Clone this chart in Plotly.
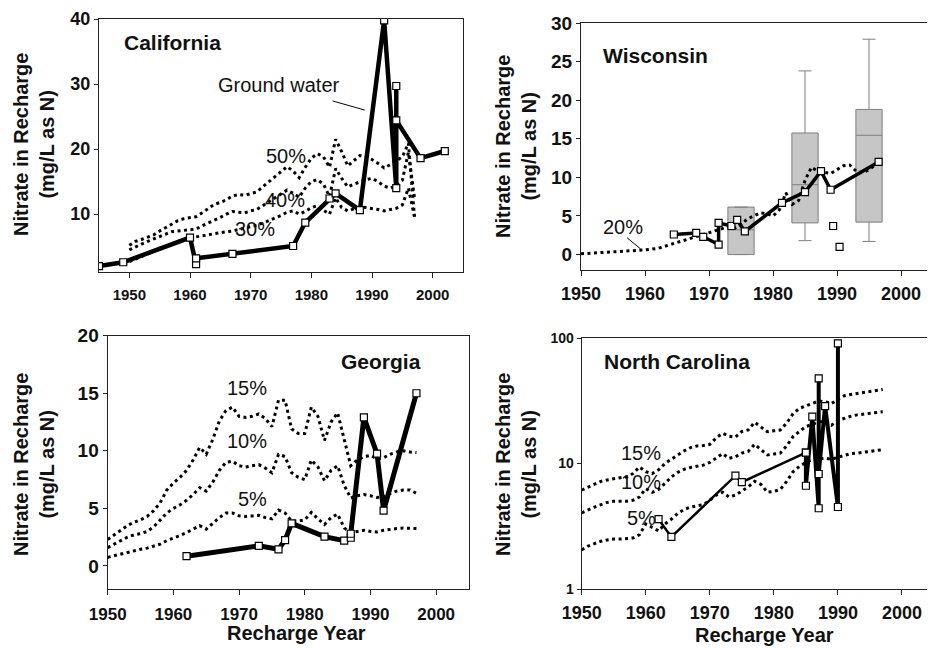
import plotly.graph_objects as go

# ---------------- DATA ----------------
pct_years = list(range(1950, 1998))

# California
ca_gw_year = [1945, 1949, 1960, 1961, 1961, 1967, 1977, 1979, 1983, 1984, 1988, 1992, 1994, 1994, 1994, 1998, 2002]
ca_gw_val = [2.0, 2.6, 6.4, 2.3, 3.2, 3.9, 5.1, 8.7, 12.4, 13.2, 10.6, 39.8, 14.0, 29.7, 24.4, 18.6, 19.7]
ca_50 = [5.2, 5.8, 6.1, 6.4, 6.8, 7.4, 7.9, 8.5, 9.0, 9.3, 9.4, 9.6, 10.2, 10.8, 11.5, 11.8, 12.2, 12.8, 13.0, 12.9,
         13.1, 13.4, 14.2, 15.0, 15.8, 16.6, 17.3, 16.6, 15.6, 17.2, 18.6, 19.3, 18.8, 17.2, 21.5, 19.6, 17.4, 18.2,
         19.0, 18.8, 18.4, 17.8, 17.1, 17.6, 18.2, 18.8, 20.9, 9.6]
ca_40 = [4.5, 5.0, 5.4, 5.8, 6.2, 6.6, 7.0, 7.3, 7.4, 7.5, 7.6, 7.7, 8.2, 8.6, 9.0, 9.5, 10.0, 10.4, 10.3, 10.2,
         10.5, 10.7, 11.3, 11.9, 12.5, 13.2, 13.7, 13.2, 12.6, 14.0, 15.0, 15.3, 14.6, 12.7, 17.0, 15.5, 14.2, 14.6,
         15.0, 15.3, 15.5, 15.0, 14.3, 14.0, 14.4, 15.2, 19.5, 12.5]
ca_30 = [2.7, 3.1, 3.5, 3.9, 4.2, 4.6, 5.0, 5.4, 5.8, 6.1, 6.4, 6.5, 6.6, 6.8, 7.0, 7.2, 7.3, 7.4, 7.6, 7.8,
         8.0, 8.3, 8.6, 9.0, 9.3, 9.8, 10.3, 10.5, 10.0, 10.4, 11.0, 11.3, 10.6, 10.0, 12.5, 11.0, 10.5, 10.8,
         11.1, 11.0, 10.9, 10.7, 10.5, 10.7, 10.9, 11.4, 14.0, 9.6]

# Wisconsin
wi_gw_year = [1964.5, 1968.0, 1969.1, 1971.5, 1971.5, 1973.5, 1974.4, 1975.6, 1981.4, 1985.0, 1987.5, 1989.0, 1996.5]
wi_gw_val = [2.6, 2.8, 2.3, 1.3, 4.1, 3.7, 4.5, 3.0, 6.7, 8.1, 10.8, 8.4, 12.0]
wi_out_year = [1989.4, 1990.4]
wi_out_val = [3.7, 1.0]
wi_20_year = [1950, 1952, 1954, 1956, 1958, 1960, 1962, 1964, 1966, 1968, 1970, 1971, 1972, 1973, 1974, 1975,
              1976, 1977, 1978, 1979, 1980, 1981, 1982, 1983, 1984, 1985, 1986, 1987, 1988, 1989, 1990, 1991,
              1992, 1993, 1994, 1995, 1996]
wi_20_val = [0.1, 0.2, 0.3, 0.4, 0.5, 0.6, 0.8, 1.3, 1.8, 2.4, 2.9, 3.1, 3.3, 3.6, 3.4, 3.9,
             4.6, 5.0, 5.4, 5.3, 5.0, 5.8, 8.0, 6.5, 7.0, 9.6, 11.3, 10.8, 10.6, 10.5, 11.0, 11.5,
             11.6, 10.8, 10.6, 11.0, 11.6]
wi_box_x = [1975, 1985, 1995]
wi_box_q1 = [0.0, 4.1, 4.2]
wi_box_med = [3.2, 9.05, 15.45]
wi_box_q3 = [6.15, 15.75, 18.8]
wi_box_lo = [0.0, 1.8, 1.7]
wi_box_hi = [6.15, 23.8, 27.9]

# Georgia
ga_gw_year = [1962, 1973, 1976, 1977, 1978, 1983, 1986, 1987, 1987, 1989, 1991, 1992, 1997]
ga_gw_val = [0.85, 1.75, 1.45, 2.25, 3.7, 2.55, 2.2, 2.45, 2.8, 12.9, 9.75, 4.8, 15.0]
ga_15 = [2.3, 2.7, 3.1, 3.5, 3.8, 4.0, 4.3, 4.8, 5.5, 6.6, 7.2, 7.7, 8.3, 9.2, 10.3, 9.7, 11.0, 12.6, 13.5, 13.8,
         13.0, 12.9, 13.0, 13.2, 12.8, 12.1, 14.4, 14.4, 11.9, 11.5, 11.5, 13.8, 13.0, 10.9, 12.5, 13.3, 11.0, 8.7,
         9.2, 9.5, 9.6, 9.3, 9.4, 9.7, 9.9, 10.0, 9.9, 9.85]
ga_10 = [1.6, 1.9, 2.2, 2.5, 2.7, 2.8, 3.0, 3.4, 4.0, 4.6, 5.0, 5.3, 5.7, 6.2, 6.8, 6.5, 7.3, 8.3, 9.0, 9.1,
         8.7, 8.6, 8.7, 8.8, 8.5, 8.1, 9.7, 9.5, 8.1, 7.7, 7.5, 9.2, 8.6, 7.4, 8.3, 8.7, 7.0, 5.9,
         6.1, 6.2, 6.1, 5.95, 6.0, 6.3, 6.5, 6.6, 6.6, 6.3]
ga_5 = [0.75, 0.9, 1.05, 1.2, 1.35, 1.45, 1.55, 1.7, 1.9, 2.2, 2.4, 2.65, 2.9, 3.2, 3.5, 3.2, 3.7, 4.2, 4.6, 4.6,
        4.35, 4.3, 4.35, 4.4, 4.2, 4.1, 4.85, 4.6, 3.9, 3.9, 4.0, 4.65, 4.1, 3.6, 4.2, 4.5, 3.3, 2.9,
        3.0, 3.1, 3.0, 2.95, 3.1, 3.2, 3.25, 3.3, 3.3, 3.25]

# North Carolina
nc_gw_year = [1962, 1964, 1974, 1975, 1985, 1985, 1986, 1987, 1987, 1987, 1988, 1990, 1990]
nc_gw_val = [3.6, 2.6, 8.0, 7.1, 12.2, 6.65, 23.6, 4.4, 47.7, 8.25, 28.7, 4.5, 90.7]
nc_15 = [6.15, 6.5, 6.9, 7.2, 7.4, 7.6, 7.7, 7.8, 8.3, 9.4, 8.6, 8.3, 8.9, 10.0, 10.9, 11.7, 12.6, 13.4, 13.8, 13.9,
         14.2, 16.0, 17.4, 16.5, 16.2, 18.0, 18.5, 21.3, 19.5, 17.9, 18.2, 18.5, 21.0, 25.0, 27.5, 28.9, 30.0, 31.5,
         31.0, 30.0, 32.5, 34.7, 35.5, 36.2, 36.8, 37.5, 38.2, 38.8]
nc_10 = [4.05, 4.3, 4.5, 4.7, 4.9, 5.0, 5.0, 5.0, 5.1, 5.4, 6.3, 5.9, 6.2, 7.0, 7.8, 8.5, 9.0, 9.3, 9.5, 9.7,
         10.2, 11.0, 12.0, 11.0, 11.3, 12.1, 12.5, 14.2, 13.0, 11.7, 11.9, 12.1, 13.8, 16.4, 18.0, 19.7, 20.5, 21.5,
         21.6, 20.2, 22.0, 22.9, 23.8, 24.4, 24.8, 25.0, 25.4, 25.8]
nc_5 = [2.05, 2.2, 2.3, 2.4, 2.46, 2.5, 2.5, 2.53, 2.55, 2.7, 3.3, 3.1, 2.9, 3.3, 3.6, 4.0, 4.3, 4.5, 4.6, 4.7,
        5.1, 5.6, 5.9, 5.4, 5.6, 6.0, 6.5, 7.2, 6.8, 5.9, 6.0, 6.2, 7.2, 8.6, 9.5, 10.2, 10.7, 10.9,
        11.0, 10.8, 11.2, 11.7, 12.0, 12.1, 12.3, 12.5, 12.7, 12.9]

x_ticks = [1950, 1960, 1970, 1980, 1990, 2000]
y_title = "Nitrate in Recharge<br>(mg/L as N)"
x_title = "Recharge Year"

# ---------------- STYLE ----------------
FONT = "Liberation Sans, Arial, sans-serif"
OFF = 8                      # page body margin of the html page
W, H = 935 - OFF, 648 - OFF
DOT = dict(color="black", width=3, dash="3px,3.5px")
MARK = dict(symbol="square", size=7, color="white", line=dict(color="black", width=1.2))


def px(x):
    return (x - OFF) / W


def py(y):
    return 1 - (y - OFF) / H


fig = go.Figure()


def dotted(xs, ys, ax):
    fig.add_trace(go.Scatter(x=xs, y=ys, mode="lines", line=DOT, xaxis=ax[0], yaxis=ax[1],
                             showlegend=False, hoverinfo="skip"))


def gw(xs, ys, ax, width):
    fig.add_trace(go.Scatter(x=xs, y=ys, mode="lines+markers", line=dict(color="black", width=width),
                             marker=MARK, xaxis=ax[0], yaxis=ax[1], showlegend=False))


# California
A1 = ("x", "y")
for s in (ca_50, ca_40, ca_30):
    dotted(pct_years, s, A1)
gw(ca_gw_year, ca_gw_val, A1, 4.5)

# Wisconsin
A2 = ("x2", "y2")
fig.add_trace(go.Box(x=wi_box_x, q1=wi_box_q1, median=wi_box_med, q3=wi_box_q3,
                     lowerfence=wi_box_lo, upperfence=wi_box_hi, width=4.1, whiskerwidth=0.5,
                     fillcolor="#c6c6c6", line=dict(color="#7f7f7f", width=1), boxpoints=False,
                     xaxis="x2", yaxis="y2", showlegend=False))
dotted(wi_20_year, wi_20_val, A2)
gw(wi_gw_year, wi_gw_val, A2, 3.5)
fig.add_trace(go.Scatter(x=wi_out_year, y=wi_out_val, mode="markers", marker=MARK,
                         xaxis="x2", yaxis="y2", showlegend=False))

# Georgia
A3 = ("x3", "y3")
for s in (ga_15, ga_10, ga_5):
    dotted(pct_years, s, A3)
gw(ga_gw_year, ga_gw_val, A3, 5)

# North Carolina
A4 = ("x4", "y4")
for s in (nc_15, nc_10, nc_5):
    dotted(pct_years, s, A4)
gw(nc_gw_year[:5], nc_gw_val[:5], A4, 2.5)
gw(nc_gw_year[4:], nc_gw_val[4:], A4, 4)

# ---------------- AXES ----------------
def xaxis(dom, rng, anchor, size, standoff):
    return dict(domain=dom, range=rng, anchor=anchor, tickvals=x_ticks, ticks="outside", ticklen=5,
                tickwidth=1.2, tickcolor="#222", showline=True, linecolor="#222", linewidth=1.3, mirror=True,
                showgrid=False, zeroline=False, ticklabelstandoff=standoff, automargin=False,
                tickfont=dict(family=FONT, size=size, color="#111", weight="bold"))


def yaxis(dom, rng, anchor, size, tickvals, typ="linear"):
    return dict(domain=dom, range=rng, anchor=anchor, tickvals=tickvals, ticks="outside", ticklen=4,
                tickwidth=1.2, tickcolor="#222", showline=True, linecolor="#222", linewidth=1.3, mirror=True,
                showgrid=False, zeroline=False, type=typ, automargin=False,
                tickfont=dict(family=FONT, size=size, color="#111", weight="bold"))


fig.update_layout(
    template="none",
    width=W, height=H, margin=dict(l=0, r=0, t=0, b=0, pad=0, autoexpand=False),
    paper_bgcolor="white", plot_bgcolor="white", showlegend=False,
    xaxis=xaxis([px(99), px(463)], [1945, 2005], "y", 15, 4),
    yaxis=yaxis([py(272), py(19)], [1.1, 40], "x", 18, [10, 20, 30, 40]),
    xaxis2=xaxis([px(581), px(933)], [1950, 2005], "y2", 18, 2),
    yaxis2=yaxis([py(270), py(23)], [-2, 30], "x2", 19, [0, 5, 10, 15, 20, 25, 30]),
    xaxis3=xaxis([px(107.7), px(469)], [1950, 2005], "y3", 17, 4),
    yaxis3=yaxis([py(589), py(335.7)], [-2, 20], "x3", 19, [0, 5, 10, 15, 20]),
    xaxis4=xaxis([px(581.7), px(934)], [1950, 2005], "y4", 18, 2),
    yaxis4=yaxis([py(589), py(338)], [0, 2], "x4", 14, [1, 10, 100], "log"),
)

# ---------------- TEXT ----------------
ann = []


def txt(text, x, y, xref, yref, size=20, bold=False, xanchor="center", angle=0):
    ann.append(dict(text=text, x=x, y=y, xref=xref, yref=yref, showarrow=False, xanchor=xanchor,
                    yanchor="middle", textangle=angle,
                    font=dict(family=FONT, size=size, color="#111", weight="bold" if bold else "normal")))


# axis titles
for (cx, cy) in [(34, 145), (516, 146), (34, 465), (516, 464)]:
    txt(y_title, px(cx), py(cy), "paper", "paper", size=20, bold=True, angle=-90)
txt(x_title, px(296), py(633), "paper", "paper", size=20, bold=True)
txt(x_title, px(764), py(635), "paper", "paper", size=20, bold=True)

# panel names
txt("California", 1948.8, 36.4, "x", "y", size=21, bold=True, xanchor="left")
txt("Wisconsin", 1953.2, 25.8, "x2", "y2", size=21, bold=True, xanchor="left")
txt("Georgia", 1991.6, 17.8, "x3", "y3", size=21, bold=True)
txt("North Carolina", 1953.1, 1.811, "x4", "y4", size=21, bold=True, xanchor="left")

# curve labels
txt("Ground water", 1974.6, 29.85, "x", "y")
txt("50%", 1975.8, 19.0, "x", "y")
txt("40%", 1975.6, 12.15, "x", "y")
txt("30%", 1970.75, 7.66, "x", "y")
txt("20%", 1956.5, 3.55, "x2", "y2")
txt("15%", 1971.25, 15.45, "x3", "y3")
txt("10%", 1971.25, 10.85, "x3", "y3")
txt("5%", 1972.1, 5.8, "x3", "y3")
txt("15%", 1959.2, 1.081, "x4", "y4")
txt("10%", 1959.2, 0.855, "x4", "y4")
txt("5%", 1959.3, 0.563, "x4", "y4")

fig.update_layout(annotations=ann)

# pointer lines
fig.add_shape(type="line", xref="x", yref="y", x0=1983.5, y0=27.4, x1=1988.8, y1=26.0,
              line=dict(color="black", width=1))
fig.add_shape(type="line", xref="x2", yref="y2", x0=1957.2, y0=2.17, x1=1959.3, y1=0.74,
              line=dict(color="black", width=1))

fig.write_html("out.html")
